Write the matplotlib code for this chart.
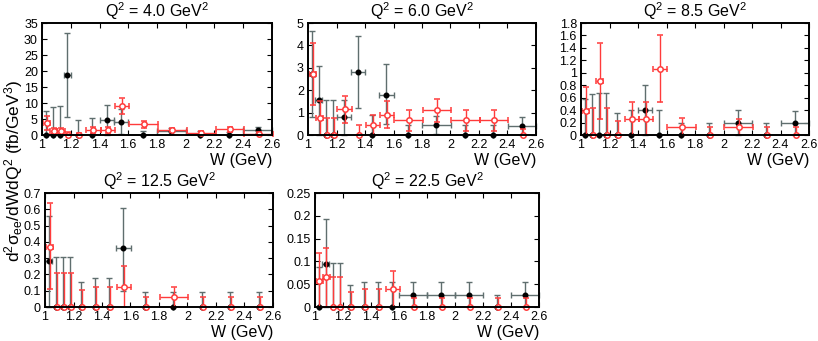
import numpy as np
import matplotlib
matplotlib.use("Agg")
import matplotlib.pyplot as plt

plt.rcParams['font.family'] = ['Liberation Sans', 'DejaVu Sans']
plt.rcParams['mathtext.fontset'] = 'custom'
plt.rcParams['mathtext.rm'] = 'Liberation Sans'
plt.rcParams['mathtext.it'] = 'Liberation Sans:italic'

# bin centres and half widths (W in GeV)
w_centres = [1.025, 1.075, 1.125, 1.175, 1.25, 1.35, 1.45, 1.55, 1.7, 1.9, 2.1, 2.3, 2.5]
w_half = [0.025, 0.025, 0.025, 0.025, 0.05, 0.05, 0.05, 0.05, 0.1, 0.1, 0.1, 0.1, 0.1]

q2_labels = ["4.0", "6.0", "8.5", "12.5", "22.5"]
y_max = [35, 5, 1.8, 0.7, 0.25]
y_step = [5, 1, 0.2, 0.1, 0.05]

# black (filled) series: value, lower bound, upper bound
blk_y_q4 = [0, 0, 0, 18.8, 0, 0, 4.6, 4.1, 0, 1.3, 0, 0, 1.6]
blk_lo_q4 = [0, 0, 0, 5.5, 0, 0, 0, 0.3, 0, 0.4, 0, 0, 0.6]
blk_hi_q4 = [7.6, 8.8, 9.2, 32.0, 4.6, 5.3, 9.4, 8.0, 1.4, 2.2, 1.2, 0.8, 2.6]

blk_y_q6 = [2.72, 1.55, 0, 0, 0.8, 2.8, 0, 1.8, 0, 0.45, 0, 0, 0.4]
blk_lo_q6 = [0.8, 0, 0, 0, 0, 1.2, 0, 0.5, 0, 0.05, 0, 0, 0]
blk_hi_q6 = [4.65, 3.1, 1.55, 1.55, 1.55, 4.4, 0.9, 3.15, 0.45, 0.85, 0.45, 0.45, 0.8]

blk_y_q85 = [0, 0, 0, 0, 0, 0, 0.4, 0, 0, 0, 0.2, 0, 0.2]
blk_lo_q85 = [0, 0, 0, 0, 0, 0, 0, 0, 0, 0, 0, 0, 0]
blk_hi_q85 = [0.58, 0.66, 0.68, 0.68, 0.35, 0.4, 0.8, 0.4, 0.2, 0.2, 0.4, 0.2, 0.38]

blk_y_q125 = [0.28, 0, 0, 0, 0, 0, 0, 0.36, 0, 0, 0, 0, 0]
blk_lo_q125 = [0, 0, 0, 0, 0, 0, 0, 0.1, 0, 0, 0, 0, 0]
blk_hi_q125 = [0.56, 0.31, 0.31, 0.31, 0.155, 0.18, 0.18, 0.61, 0.09, 0.09, 0.09, 0.09, 0.09]

blk_y_q225 = [0, 0.095, 0, 0, 0, 0, 0, 0, 0.027, 0.027, 0.027, 0, 0.027]
blk_lo_q225 = [0, 0, 0, 0, 0, 0, 0, 0, 0, 0, 0, 0, 0]
blk_hi_q225 = [0.088, 0.192, 0.096, 0.096, 0.048, 0.055, 0.055, 0.055, 0.055, 0.055, 0.055, 0.027, 0.055]

# red (open) series
red_y_q4 = [3.8, 1.3, 1.2, 0, 0, 1.6, 1.6, 9.2, 3.3, 1.5, 0.7, 1.8, 0.3]
red_lo_q4 = [1.6, 0.3, 0.2, 0, 0, 0.6, 0.6, 6.7, 2.3, 0.9, 0.2, 1.0, 0]
red_hi_q4 = [6.0, 2.3, 2.2, 1.0, 0.6, 2.6, 2.6, 11.7, 4.3, 2.1, 1.2, 2.6, 0.8]

red_y_q6 = [2.72, 0.75, 0, 0, 1.15, 0, 0.45, 0.9, 0.65, 1.1, 0.65, 0.65, 0]
red_lo_q6 = [1.35, 0, 0, 0, 0.55, 0, 0, 0.3, 0.2, 0.6, 0.2, 0.2, 0]
red_hi_q6 = [4.1, 1.5, 0.75, 0.75, 1.75, 0.45, 0.9, 1.5, 1.1, 1.6, 1.1, 1.1, 0.25]

red_y_q85 = [0.38, 0, 0.87, 0, 0, 0.26, 0.26, 1.06, 0.13, 0, 0.13, 0, 0]
red_lo_q85 = [0, 0, 0.26, 0, 0, 0, 0, 0.53, 0, 0, 0, 0, 0]
red_hi_q85 = [0.77, 0.44, 1.48, 0.44, 0.22, 0.53, 0.53, 1.6, 0.27, 0.13, 0.26, 0.13, 0.13]

red_y_q125 = [0.37, 0, 0, 0, 0, 0, 0, 0.12, 0, 0.06, 0, 0, 0]
red_lo_q125 = [0.11, 0, 0, 0, 0, 0, 0, 0, 0, 0, 0, 0, 0]
red_hi_q125 = [0.64, 0.21, 0.21, 0.21, 0.105, 0.125, 0.125, 0.25, 0.06, 0.125, 0.06, 0.06, 0.06]

red_y_q225 = [0.058, 0.065, 0, 0, 0, 0, 0, 0.039, 0, 0, 0, 0, 0]
red_lo_q225 = [0, 0, 0, 0, 0, 0, 0, 0, 0, 0, 0, 0, 0]
red_hi_q225 = [0.118, 0.13, 0.066, 0.066, 0.033, 0.04, 0.04, 0.079, 0.02, 0.02, 0.02, 0.02, 0.02]

black_sets = [(blk_y_q4, blk_lo_q4, blk_hi_q4), (blk_y_q6, blk_lo_q6, blk_hi_q6),
              (blk_y_q85, blk_lo_q85, blk_hi_q85), (blk_y_q125, blk_lo_q125, blk_hi_q125),
              (blk_y_q225, blk_lo_q225, blk_hi_q225)]
red_sets = [(red_y_q4, red_lo_q4, red_hi_q4), (red_y_q6, red_lo_q6, red_hi_q6),
            (red_y_q85, red_lo_q85, red_hi_q85), (red_y_q125, red_lo_q125, red_hi_q125),
            (red_y_q225, red_lo_q225, red_hi_q225)]

W_px, H_px = 818, 341
fig = plt.figure(figsize=(W_px / 100, H_px / 100), dpi=100)

# axes boxes in pixels: left, top, right, bottom
boxes = [(42, 23, 272, 135), (308, 23, 536, 135), (581, 23, 809, 135),
         (45, 193, 273, 307), (315, 193, 539, 307)]

gray = '#5f6e6e'
red = '#ff3b3b'
wc = np.array(w_centres)
wh = np.array(w_half)

for i, (l, t, r, b) in enumerate(boxes):
    ax = fig.add_axes([l / W_px, 1 - b / H_px, (r - l) / W_px, (b - t) / H_px])
    by, blo, bhi = [np.array(v, dtype=float) for v in black_sets[i]]
    ry, rlo, rhi = [np.array(v, dtype=float) for v in red_sets[i]]
    bx_err = np.where(by > 0, wh, 0)
    rx_err = np.where(ry > 0, wh, 0)
    eb1 = ax.errorbar(wc, by, yerr=[by - blo, bhi - by], xerr=bx_err, fmt='o', color='black',
                      ms=3.3, ecolor=gray, elinewidth=1.0, capsize=2, capthick=1.0, zorder=3)
    eb2 = ax.errorbar(wc + 0.007, ry, yerr=[ry - rlo, rhi - ry], xerr=rx_err, fmt='o',
                      mfc='white', mec=red, mew=1.1, ms=3.9, ecolor=red, elinewidth=1.0,
                      capsize=2, capthick=1.0, zorder=4)
    for eb in (eb1, eb2):
        for art in eb.get_children():
            art.set_clip_on(False)
    ax.set_xlim(1, 2.6)
    ax.set_ylim(0, y_max[i])
    ax.set_xticks(np.arange(1.0, 2.61, 0.2))
    ax.set_xticklabels(['1', '1.2', '1.4', '1.6', '1.8', '2', '2.2', '2.4', '2.6'])
    yt = np.arange(0, y_max[i] + 1e-9, y_step[i])
    ax.set_yticks(yt)
    ax.set_yticklabels([('%g' % round(v, 4)) for v in yt])
    ax.tick_params(direction='in', top=True, right=True, labelsize=9, length=3.5, width=0.8, pad=3)
    for s in ax.spines.values():
        s.set_linewidth(1.4)
        s.set_zorder(5)
    ax.set_title('Q$^2$ = %s GeV$^2$' % q2_labels[i], fontsize=11.5, pad=4)
    ax.set_xlabel('W (GeV)', fontsize=11.5, loc='right', labelpad=1)

fig.text(0.016, 0.5, r'd$^2\mathrm{\sigma}_{\mathrm{ee}}$/dWdQ$^2$ (fb/GeV$^3$)', rotation=90,
         fontsize=12.5, ha='center', va='center')

fig.savefig('out.png', dpi=100)
